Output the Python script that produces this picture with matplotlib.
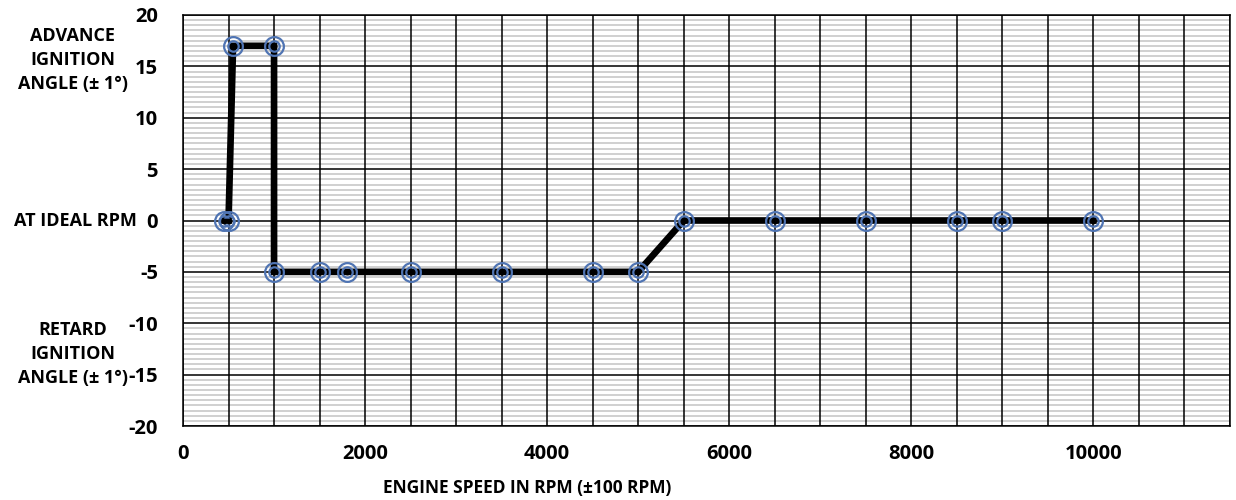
import numpy as np
import matplotlib.pyplot as plt

plt.rcParams['font.family'] = ['Open Sans', 'DejaVu Sans']
plt.rcParams['font.weight'] = 'bold'
plt.rcParams['axes.unicode_minus'] = False

rpm = [450, 500, 550, 1000, 1000, 1500, 1800, 2500, 3500, 4500, 5000,
       5500, 6500, 7500, 8500, 9000, 10000]
angle = [0, 0, 17, 17, -5, -5, -5, -5, -5, -5, -5, 0, 0, 0, 0, 0, 0]
x_ticks = [0, 2000, 4000, 6000, 8000, 10000]
y_ticks = [-20, -15, -10, -5, 0, 5, 10, 15, 20]

blue = '#4f74b3'

fig = plt.figure(figsize=(12.36, 5), dpi=100)
ax = fig.add_axes([183 / 1236, 1 - 426 / 500, (1230 - 183) / 1236, (426 - 15) / 500])

ax.set_xlim(0, 11500)
ax.set_ylim(-20, 20)

# grid: light grey every 0.5, black every 5 (y); black every 500 (x)
for y in np.arange(-20, 20.01, 0.5):
    if y % 5 != 0:
        ax.axhline(y, color='#d0d0d0', lw=1.4, zorder=0)
for y in y_ticks:
    ax.axhline(y, color='black', lw=1.1, zorder=1)
for x in np.arange(0, 11501, 500):
    ax.axvline(x, color='black', lw=1.1, zorder=1)

ax.plot(rpm, angle, color='black', lw=4.8, solid_joinstyle='miter', zorder=3)
ax.plot(rpm, angle, 'o', ms=13.5, mfc='none', mec=blue, mew=1.6, zorder=4)
ax.plot(rpm, angle, 'o', ms=7.5, mfc='none', mec=blue, mew=1.6, zorder=4)
ax.plot(rpm, angle, 'o', ms=3.2, color='black', zorder=5)

ax.set_xticks(x_ticks)
ax.set_yticks(y_ticks)
ax.tick_params(length=0, labelsize=14.5, pad=13)
ax.tick_params(axis='y', pad=18)
for lab in ax.get_xticklabels() + ax.get_yticklabels():
    lab.set_fontweight('bold')
for s in ax.spines.values():
    s.set_color('black')
    s.set_linewidth(1.1)

fig.text(73 / 1236, 1 - 60 / 500, 'ADVANCE\nIGNITION\nANGLE (± 1°)', ha='center', va='center',
         fontsize=13, fontweight='bold', linespacing=1.45)
fig.text(137 / 1236, 1 - 221 / 500, 'AT IDEAL RPM', ha='right', va='center',
         fontsize=13, fontweight='bold')
fig.text(73 / 1236, 1 - 354 / 500, 'RETARD\nIGNITION\nANGLE (± 1°)', ha='center', va='center',
         fontsize=13, fontweight='bold', linespacing=1.45)
fig.text(527 / 1236, 1 - 488 / 500, 'ENGINE SPEED IN RPM (±100 RPM)', ha='center', va='center',
         fontsize=12.5, fontweight='bold')

fig.savefig('out.png', dpi=100)
